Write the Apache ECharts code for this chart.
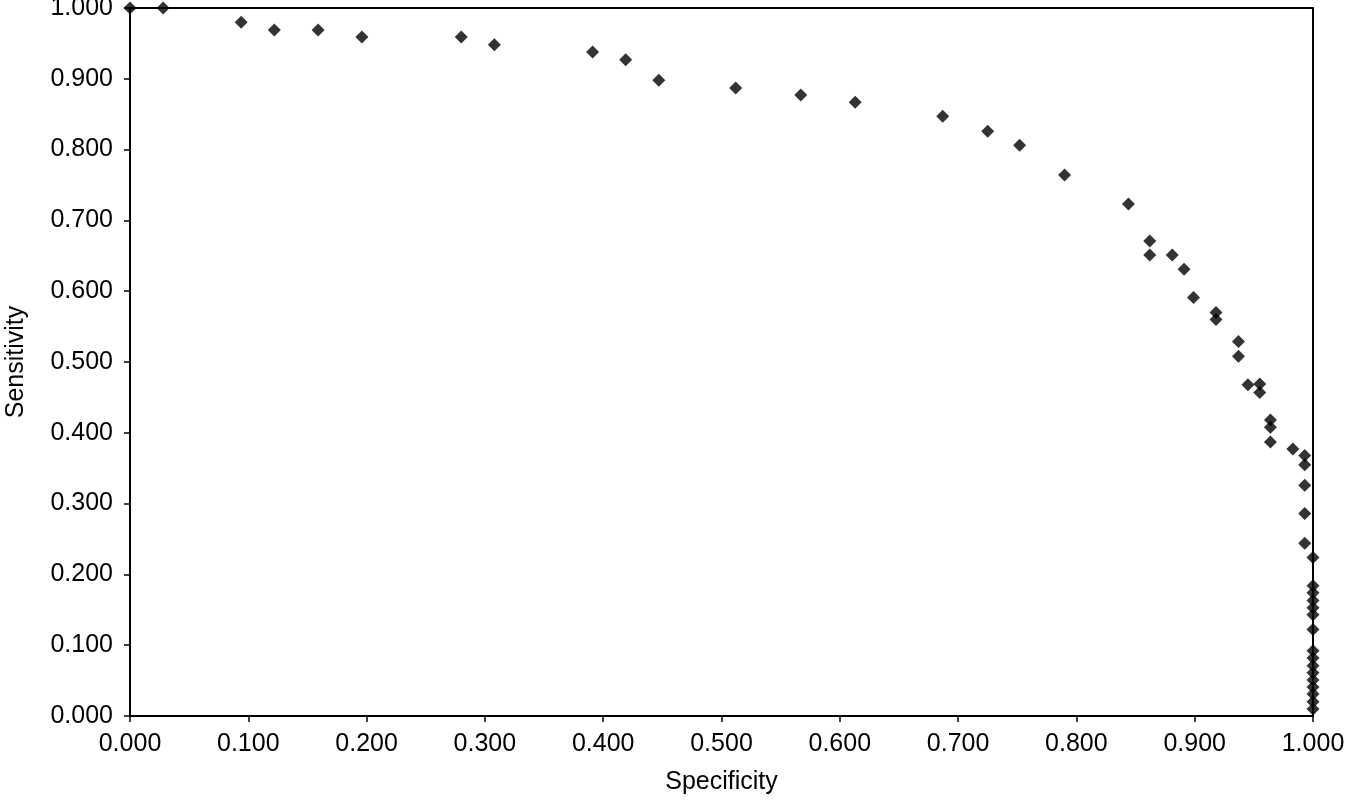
<!DOCTYPE html>
<html lang="en" style="height: 100%">
<head>
  <meta charset="utf-8">
</head>
<body style="height: 100%; margin: 0; background: #fff">
  <div id="container" style="width: 1348px; height: 800px"></div>

  <script type="text/javascript" src="https://cdn.jsdelivr.net/npm/echarts@6/dist/echarts.min.js"></script>
  <script type="text/javascript">
    // ROC points
    var specificity = [
      0.000, 0.028, 0.094, 0.122, 0.159, 0.196, 0.280, 0.308, 0.391, 0.419,
      0.447, 0.512, 0.567, 0.613, 0.687, 0.725, 0.752, 0.790, 0.844, 0.862,
      0.862, 0.881, 0.891, 0.899, 0.918, 0.918, 0.937, 0.937, 0.945, 0.955,
      0.955, 0.964, 0.964, 0.964, 0.983, 0.993, 0.993, 0.993, 0.993, 0.993,
      1.000, 1.000, 1.000, 1.000, 1.000, 1.000, 1.000, 1.000, 1.000, 1.000,
      1.000, 1.000, 1.000, 1.000, 1.000, 1.000
    ];
    var sensitivity = [
      1.000, 1.000, 0.980, 0.969, 0.969, 0.959, 0.959, 0.948, 0.938, 0.927,
      0.898, 0.887, 0.877, 0.867, 0.847, 0.826, 0.806, 0.764, 0.723, 0.671,
      0.651, 0.651, 0.631, 0.591, 0.570, 0.560, 0.529, 0.508, 0.468, 0.469,
      0.457, 0.418, 0.408, 0.387, 0.377, 0.368, 0.355, 0.326, 0.286, 0.244,
      0.224, 0.184, 0.174, 0.163, 0.153, 0.143, 0.122, 0.092, 0.082, 0.071,
      0.061, 0.051, 0.041, 0.031, 0.020, 0.010
    ];
    var xName = 'Specificity';
    var yName = 'Sensitivity';

    var points = specificity.map(function (x, i) { return [x, sensitivity[i]]; });

    var font = "'Liberation Sans', Arial, sans-serif";
    var fmt = function (v) { return v.toFixed(3); };

    var myChart = echarts.init(document.getElementById('container'), null, { renderer: 'canvas' });

    var option = {
      backgroundColor: '#fff',
      animation: false,
      grid: {
        left: 130, right: 35, top: 8, bottom: 84,
        outerBoundsMode: 'none', containLabel: false,
        show: true, borderColor: '#000', borderWidth: 2, backgroundColor: 'transparent'
      },
      xAxis: {
        type: 'value', min: 0, max: 1, interval: 0.1,
        name: xName, nameLocation: 'middle', nameGap: 54,
        nameTextStyle: { fontFamily: font, fontSize: 25, color: '#000' },
        axisLine: { show: true, lineStyle: { color: '#000', width: 2 } },
        axisTick: { show: true, inside: false, length: 6, lineStyle: { color: '#000', width: 1.5 } },
        axisLabel: { formatter: fmt, fontFamily: font, fontSize: 25, color: '#000', margin: 16 },
        splitLine: { show: false }
      },
      yAxis: {
        type: 'value', min: 0, max: 1, interval: 0.1,
        name: yName, nameLocation: 'middle', nameGap: 101,
        nameTextStyle: { fontFamily: font, fontSize: 25, color: '#000' },
        axisLine: { show: true, lineStyle: { color: '#000', width: 2 } },
        axisTick: { show: true, inside: false, length: 6, lineStyle: { color: '#000', width: 1.5 } },
        axisLabel: { formatter: fmt, fontFamily: font, fontSize: 25, color: '#000', margin: 17 },
        splitLine: { show: false }
      },
      series: [
        {
          type: 'scatter',
          symbol: 'diamond',
          symbolSize: 13,
          clip: false,
          itemStyle: { color: '#000' },
          data: points
        }
      ]
    };

    myChart.setOption(option);
    window.addEventListener('resize', myChart.resize);
  </script>
</body>
</html>
